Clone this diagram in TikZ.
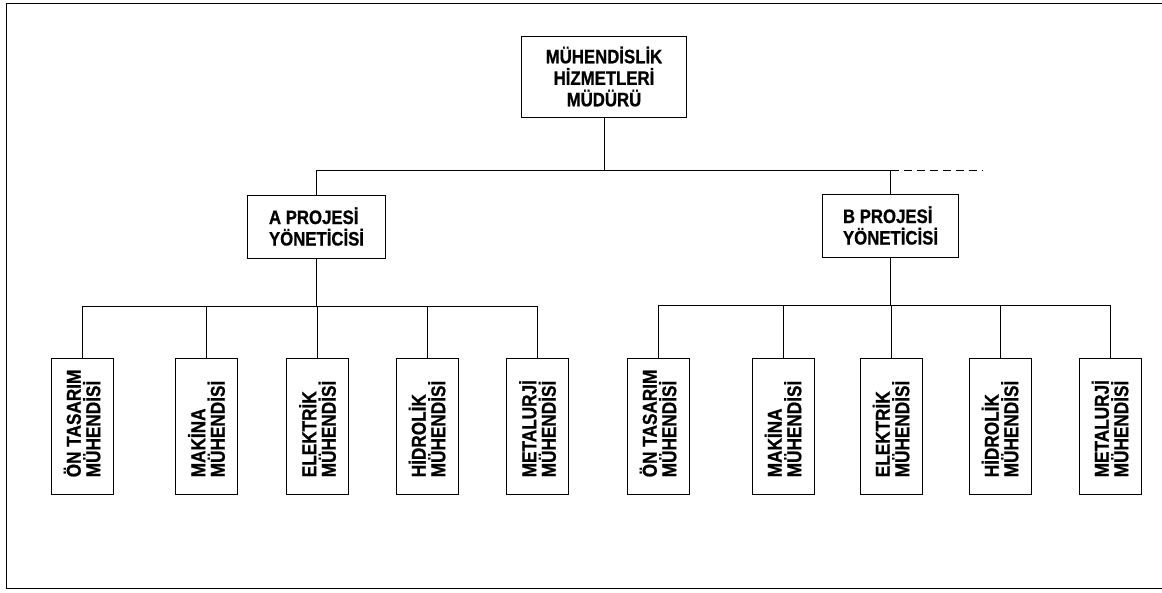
\documentclass[tikz,border=0pt]{standalone}
\usepackage{fontspec}
\setmainfont{Liberation Sans}[FakeStretch=0.86, BoldFeatures={FakeBold=0.8}]
\begin{document}
\begin{tikzpicture}[x=1pt,y=-1pt,
  frame/.style={line width=1pt},
  conn/.style={line width=0.9pt},
  box/.style={draw, line width=0.9pt, inner sep=0pt,
    font=\bfseries\fontsize{19.5}{21.5}\selectfont},
  eng/.style={draw, line width=0.9pt, inner sep=0pt,
    minimum width=62pt, minimum height=136pt},
  engtxt/.style={rotate=90, anchor=west, inner sep=0pt, align=left,
    font=\bfseries\fontsize{20}{19.5}\selectfont},
  dashline/.style={line width=0.9pt, dash pattern=on 8pt off 5pt}]
\useasboundingbox (0,0) rectangle (1162,592);
\draw[frame] (1162,3) -- (6,3) -- (6,588) -- (1162,588);

% upper levels
\node[box, align=center, minimum width=165pt, minimum height=81pt] (top) at (604,76.5)
  {MÜHENDİSLİK\\HİZMETLERİ\\MÜDÜRÜ};
\node[box, align=left, minimum width=138pt, minimum height=63pt] (pa) at (316.5,226.5)
  {A PROJESİ\\YÖNETİCİSİ};
\node[box, align=left, minimum width=136pt, minimum height=63pt] (pb) at (890.5,225.5)
  {B PROJESİ\\YÖNETİCİSİ};

\coordinate (bus) at (0,170.5);
\coordinate (busA) at (0,306);
\coordinate (busB) at (0,305);
\coordinate (dashend) at (982,170.5);

\draw[conn] (top.south) -- (top.south |- bus);
\draw[conn] (top.south |- bus) -| (pa.north);
\draw[conn] (top.south |- bus) -| (pb.north);
\draw[dashline] (pb.north |- bus) -- (dashend);

% A group
\node[eng] (a1) at (82,426) {};
\node[eng] (a2) at (206.5,426) {};
\node[eng] (a3) at (317.5,426) {};
\node[eng] (a4) at (427,426) {};
\node[eng] (a5) at (537.5,426) {};
\node[engtxt] (a1t) at ([yshift=17pt]a1.south) {ÖN TASARIM\\MÜHENDİSİ};
\node[engtxt] (a2t) at ([yshift=17pt]a2.south) {MAKİNA\\MÜHENDİSİ};
\node[engtxt] (a3t) at ([yshift=17pt]a3.south) {ELEKTRİK\\MÜHENDİSİ};
\node[engtxt] (a4t) at ([yshift=17pt]a4.south) {HİDROLİK\\MÜHENDİSİ};
\node[engtxt] (a5t) at ([yshift=17pt]a5.south) {METALURJİ\\MÜHENDİSİ};

\draw[conn] (pa.south) -- (pa.south |- busA);
\draw[conn] (a1.north) |- (a5.north |- busA) -- (a5.north);
\draw[conn] (a2.north) -- (a2.north |- busA);
\draw[conn] (a3.north) -- (a3.north |- busA);
\draw[conn] (a4.north) -- (a4.north |- busA);

% B group
\node[eng] (b1) at (658,426) {};
\node[eng] (b2) at (783,426) {};
\node[eng] (b3) at (891,426) {};
\node[eng] (b4) at (1000,426) {};
\node[eng] (b5) at (1110,426) {};
\node[engtxt] (b1t) at ([yshift=17pt]b1.south) {ÖN TASARIM\\MÜHENDİSİ};
\node[engtxt] (b2t) at ([yshift=17pt]b2.south) {MAKİNA\\MÜHENDİSİ};
\node[engtxt] (b3t) at ([yshift=17pt]b3.south) {ELEKTRİK\\MÜHENDİSİ};
\node[engtxt] (b4t) at ([yshift=17pt]b4.south) {HİDROLİK\\MÜHENDİSİ};
\node[engtxt] (b5t) at ([yshift=17pt]b5.south) {METALURJİ\\MÜHENDİSİ};

\draw[conn] (pb.south) -- (pb.south |- busB);
\draw[conn] (b1.north) |- (b5.north |- busB) -- (b5.north);
\draw[conn] (b2.north) -- (b2.north |- busB);
\draw[conn] (b3.north) -- (b3.north |- busB);
\draw[conn] (b4.north) -- (b4.north |- busB);
\end{tikzpicture}
\end{document}
